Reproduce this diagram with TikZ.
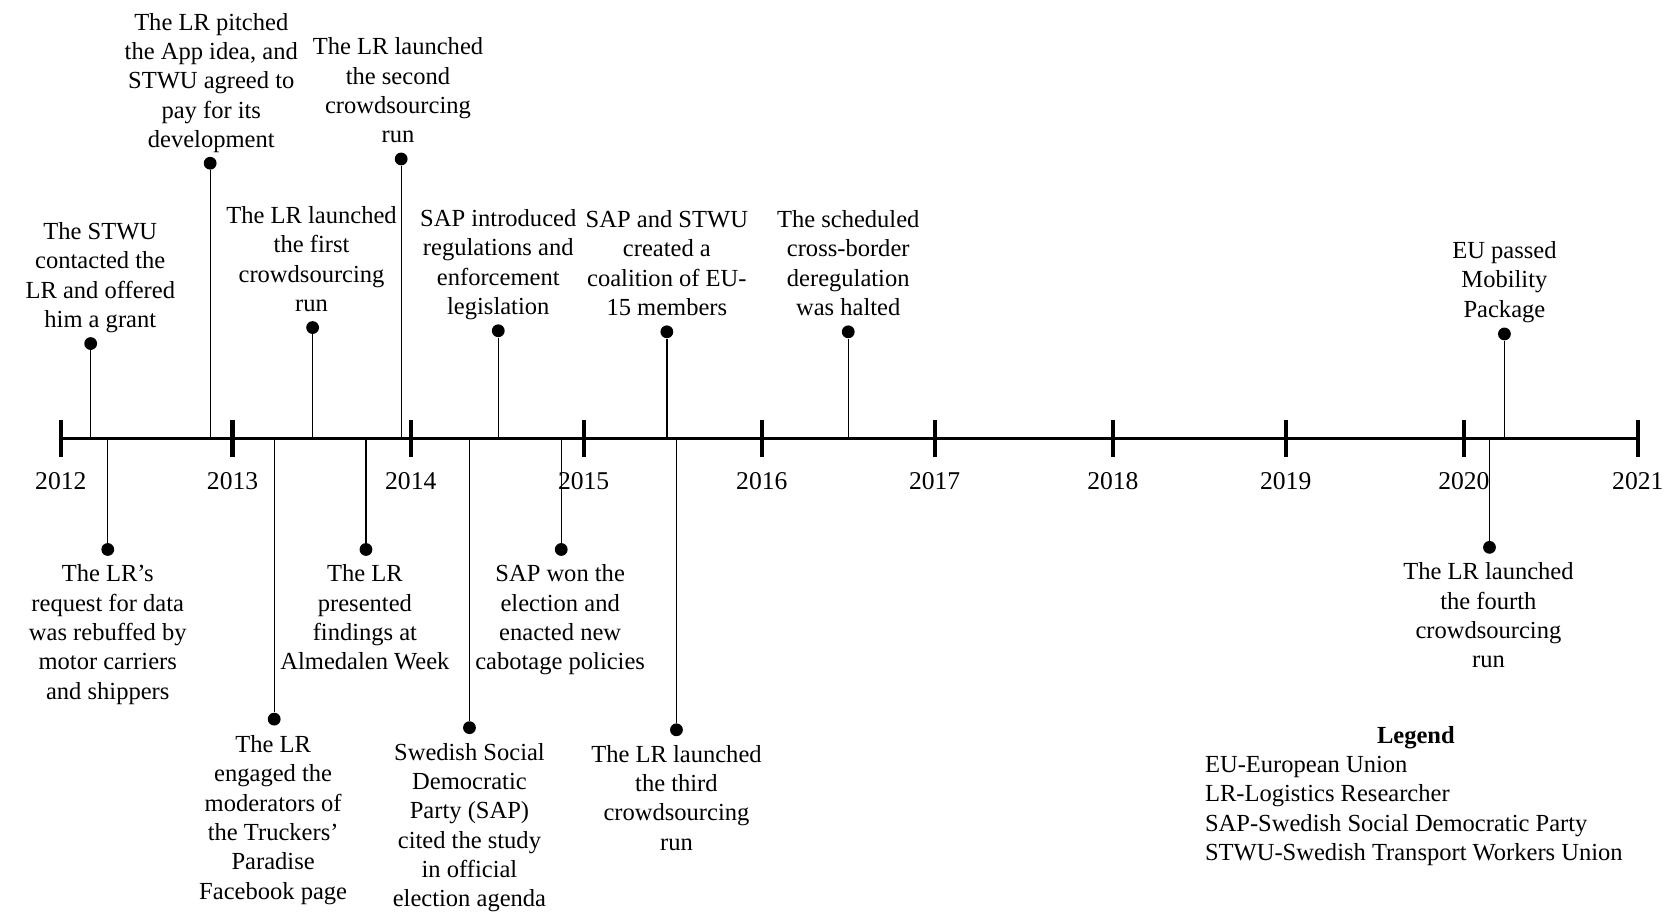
\documentclass[tikz,border=0pt]{standalone}
\usepackage{fontspec}
\setmainfont{Liberation Serif}
\begin{document}
\begin{tikzpicture}[x=0.5pt,y=-0.5pt,
  lbl/.style={font=\fontsize{11.5}{13.75}\selectfont, align=center, anchor=north, inner sep=0pt},
  yr/.style={font=\fontsize{12}{13}\selectfont, inner sep=0pt},
  dot/.style={circle, fill=black, inner sep=0pt, minimum size=6pt},
  stem/.style={line width=0.6pt},
  axis/.style={line width=1.3pt},
  tick/.style={line width=2pt},
  leg/.style={font=\fontsize{11.5}{13.75}\selectfont, anchor=west, inner sep=0pt}]
\useasboundingbox (0,0) rectangle (1568,854);
% axis
\coordinate (a0) at (57,411);
\coordinate (a1) at (1535,411);
\draw[axis] (a0) -- (a1);
% ticks and years
\foreach \x/\y in {57/2012,218/2013,385/2014,547/2015,714/2016,876/2017,1043/2018,1205/2019,1372/2020,1535/2021}{
  \coordinate (t\y) at (\x,394);
  \coordinate (b\y) at (\x,428);
  \draw[tick] (t\y) -- (b\y);
  \node[yr] (y\y) at (\x,451) {\y};
}
% above events
\foreach \n/\x/\dy/\ty/\tx/\txt in {
 e1/85/322/208/94/{The STWU\\contacted the\\LR and offered\\him a grant},
 e2/197/153/12/198/{The LR pitched\\the App idea, and\\STWU agreed to\\pay for its\\development},
 e3/293/307/193/292/{The LR launched\\the first\\crowdsourcing\\run},
 e4/376/149/35/373/{The LR launched\\the second\\crowdsourcing\\run},
 e5/467/310/196/467/{SAP introduced\\regulations and\\enforcement\\legislation},
 e6/625/311/197/625/{SAP and STWU\\created a\\coalition of EU-\\15 members},
 e7/795/311/197/795/{The scheduled\\cross-border\\deregulation\\was halted},
 e8/1410/313/226/1410/{EU passed\\Mobility\\Package}}{
  \node[dot] (d\n) at (\x,\dy) {};
  \coordinate (c\n) at (\x,411);
  \draw[stem] (d\n) -- (c\n);
  \node[lbl] (l\n) at (\tx,\ty) {\txt};
}
% below events
\foreach \n/\x/\dy/\ty/\tx/\txt in {
 f1/101/515/529/101/{The LR’s\\request for data\\was rebuffed by\\motor carriers\\and shippers},
 f2/257/674/689/256/{The LR\\engaged the\\moderators of\\the Truckers’\\Paradise\\Facebook page},
 f3/343/515/529/342/{The LR\\presented\\findings at\\Almedalen Week},
 f4/440/682/696/440/{Swedish Social\\Democratic\\Party (SAP)\\cited the study\\in official\\election agenda},
 f5/526/515/529/525/{SAP won the\\election and\\enacted new\\cabotage policies},
 f6/634/684/698/634/{The LR launched\\the third\\crowdsourcing\\run},
 f7/1396/513/527/1395/{The LR launched\\the fourth\\crowdsourcing\\run}}{
  \coordinate (c\n) at (\x,411);
  \node[dot] (d\n) at (\x,\dy) {};
  \draw[stem] (c\n) -- (d\n);
  \node[lbl] (l\n) at (\tx,\ty) {\txt};
}
% legend
\node[font=\fontsize{11.5}{13}\selectfont\bfseries, inner sep=0pt] (legt) at (1327,691) {Legend};
\node[leg] (leg1) at (1129,719) {EU-European Union};
\node[leg] (leg2) at (1129,746) {LR-Logistics Researcher};
\node[leg] (leg3) at (1129,774) {SAP-Swedish Social Democratic Party};
\node[leg] (leg4) at (1129,801) {STWU-Swedish Transport Workers Union};
\end{tikzpicture}
\end{document}
